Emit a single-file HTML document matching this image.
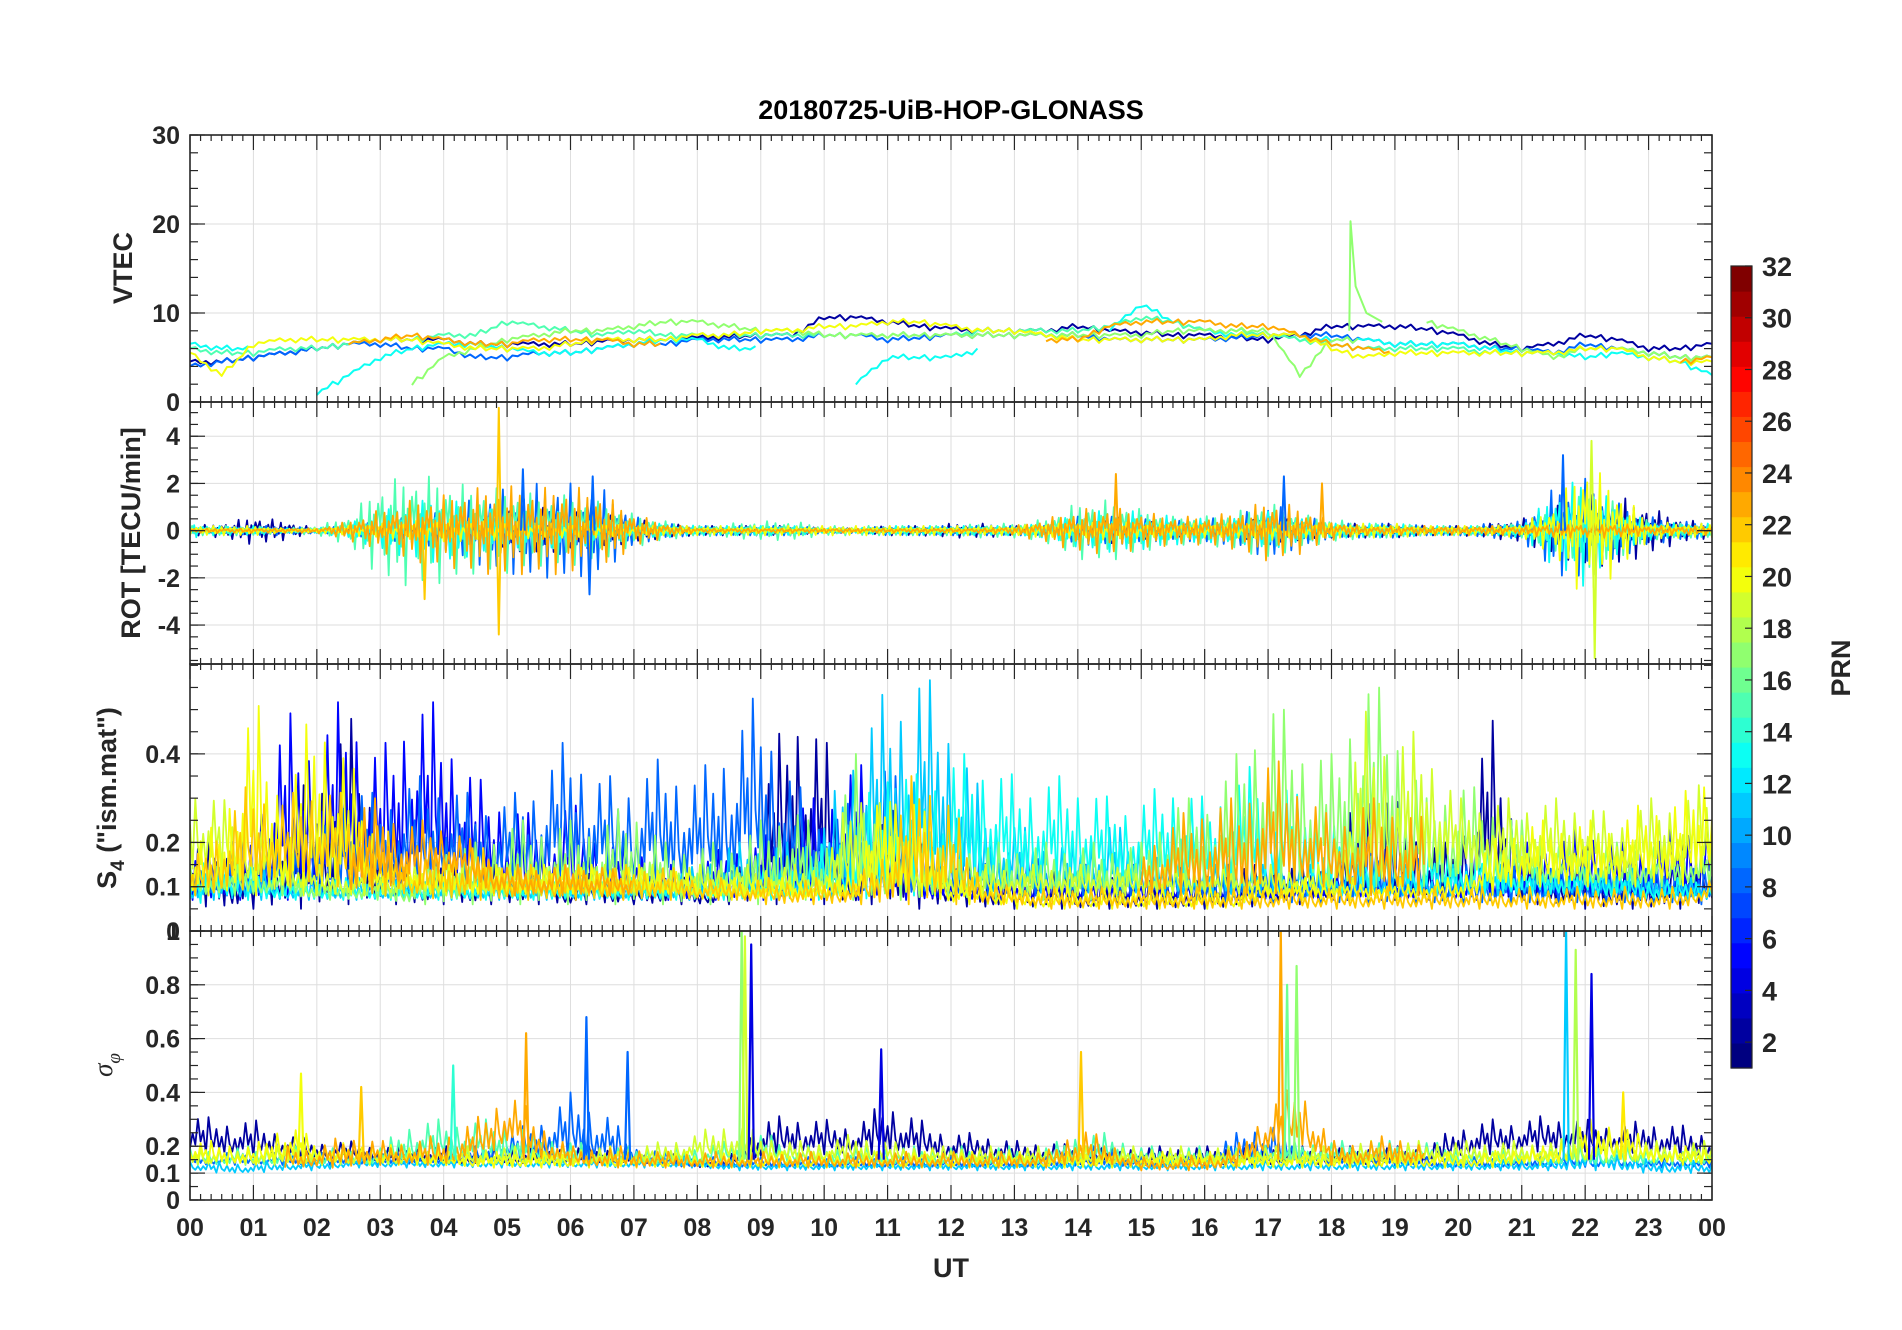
<!DOCTYPE html>
<html><head><meta charset="utf-8"><style>
html,body{margin:0;padding:0;background:#fff;}
svg{display:block;font-family:"Liberation Sans",Arial,sans-serif;}
</style></head><body>
<svg id="chart" width="1902" height="1330" viewBox="0 0 1902 1330" xmlns="http://www.w3.org/2000/svg">
<text x="951" y="119" font-size="27" font-weight="bold" text-anchor="middle" fill="#000">20180725-UiB-HOP-GLONASS</text>
<text x="951" y="1277" font-size="27" font-weight="bold" text-anchor="middle" fill="#262626">UT</text>
<text transform="translate(132,268) rotate(-90)" font-size="27" font-weight="bold" text-anchor="middle" fill="#262626">VTEC</text>
<text transform="translate(140,533) rotate(-90)" font-size="27" font-weight="bold" text-anchor="middle" fill="#262626">ROT [TECU/min]</text>
<text transform="translate(116,798) rotate(-90)" font-size="27" font-weight="bold" text-anchor="middle" fill="#262626">S<tspan font-size="19" dy="8">4</tspan><tspan dy="-8"> ("ism.mat")</tspan></text>
<text transform="translate(112,1065) rotate(-90)" font-size="27" font-style="italic" font-family="Liberation Serif,serif" text-anchor="middle" fill="#262626">σ<tspan font-size="19" dy="8">φ</tspan></text>
<text transform="translate(1850,668) rotate(-90)" font-size="27" font-weight="bold" text-anchor="middle" fill="#262626">PRN</text>
<g id="layer"></g>
</svg>
<script>
// ---------- data (0.5 h steps, 00:00..24:00) ----------
const hourTicks = ["00","01","02","03","04","05","06","07","08","09","10","11","12","13","14","15","16","17","18","19","20","21","22","23","00"];
const vtecPRN = [2,8,13,15,17,20,23];
const vtec2  = [4.5,4.5,5,5.5,6,6.5,7,7,7,6.5,6.5,6.5,6.5,6.8,7,7,7.2,7.3,7.5,7.5,9.5,9.5,9,8.5,8.2,8,8,8,8.5,8,7.8,7.5,7.5,7.2,7,7.5,8.5,8.5,8.5,8.2,7.5,6.5,6,6.5,7.5,7,6,6,6.5];
const vtec8  = [4,4.5,5,5.5,6,6.5,6.5,6,6,5,5,5.5,5.5,6,6.5,6.5,7,7,7,7,7.5,7.5,7,7.2,7.5,7.5,7.5,7.5,7.5,7,7,7,7,7.2,7.5,7.5,7.5,7,6.5,6.5,6.5,6,6,5.5,6.5,6,5.5,5,5];
const vtec13 = [6.5,6,6,null,1,3,5,6,6.5,6.5,6,5.5,5.5,6,6.5,7,7,6,6,null,null,2,5,5,5,6,null,null,null,8,11,9,8,7.5,7.5,7,7,7,6.5,6.5,6.5,6,5.5,5.5,5,5.5,5,4.5,3];
const vtec15 = [6,5.5,5.5,6,6,6.5,7,7,7.5,7.5,9,8.5,8,7.5,8,7.5,7.5,7.5,7.5,7.5,7.5,7.5,7.5,7.5,7.5,8,8,8,8,8.5,9.5,9,8,8,7.5,7,6.5,6,6,6,6,5.5,5.5,5.5,6,6,5.5,5,5];
const vtec17 = [null,null,null,null,null,null,null,2,5,6,7,7.5,8,8,8.5,9,9,8.5,8,8,7.5,7.5,7.5,7.5,7.5,7.5,7.5,7.5,7.5,7.5,7.5,8,8,8,8,3,7,7,null,9,8,7,6,5,6,6,5.5,5,5];
const vtec20 = [5.5,3,6.5,7,7,7,7,7,6.5,6,6,6,6.5,7,7,7,7.5,7.5,8,8,8.5,8.5,9,9,8.5,8,8,7.5,7,7,7,7,7,7.5,7.5,7.5,6,5,5.5,5.5,5.5,5.5,5.5,5.5,6,6,5,4.5,4.5];
const vtec23 = [null,null,null,null,null,6.5,7,7.5,7,6.5,6.5,7,7,7,6.5,6.5,null,null,null,null,null,null,null,null,null,null,null,7,7,8.5,9,9,9,8.5,8.5,7.5,6.5,6,5.5,null,null,null,null,null,null,null,null,4.5,5];
const vtecSpikeHour = [18.3];
const vtecSpikeVal  = [20.3];
const vtecSpikePRN  = [17];

const rotPRN = [2,8,15,13,20,23];
const rot2  = [0.2,0.3,0.6,0.4,0.1,0.1,0.2,0.3,0.5,0.5,0.8,1,0.8,0.7,0.5,0.3,0.2,0.2,0.2,0.2,0.1,0.1,0.2,0.2,0.3,0.3,0.2,0.1,0.4,0.6,0.4,0.3,0.2,0.3,0.6,0.4,0.3,0.3,0.3,0.2,0.2,0.3,0.5,1,1.5,1.5,1,0.5,0.3];
const rot8  = [0.1,0.1,0.2,0.2,0.1,0.2,0.4,0.6,0.8,1.4,1.8,2,2,1.8,0.6,0.3,0.2,0.2,0.2,0.2,0.1,0.1,0.2,0.2,0.2,0.2,0.2,0.2,0.6,0.6,0.5,0.4,0.5,0.6,1.2,0.7,0.3,0.3,0.3,0.2,0.2,0.3,0.4,1.8,2.2,1.2,0.6,0.4,0.3];
const rot15 = [0.2,0.2,0.2,0.1,0.2,0.6,2,2.4,2.2,1.8,1.8,1.5,1.5,1.2,0.7,0.4,0.2,0.3,0.4,0.4,0.2,0.2,0.2,0.2,0.2,0.3,0.3,0.5,1.2,1.3,0.9,0.6,0.6,0.8,1.2,0.7,0.5,0.3,0.3,0.2,0.2,0.2,0.3,0.8,1.6,1.2,0.4,0.3,0.3];
const rot13 = [0.3,0.2,0.2,0.1,0.1,0.3,0.8,1.2,1.4,1,0.8,0.8,0.8,0.6,0.3,0.3,0.2,0.2,0.2,0.2,0.1,0.1,0.2,0.2,0.2,0.2,0.2,0.3,0.7,0.9,0.8,0.6,0.5,0.5,0.8,0.5,0.3,0.3,0.3,0.2,0.2,0.2,0.3,1.5,2.4,1,0.4,0.3,0.3];
const rot20 = [0.2,0.2,0.2,0.1,0.1,0.2,0.3,0.4,0.5,0.4,0.4,0.3,0.3,0.3,0.2,0.2,0.2,0.2,0.2,0.2,0.2,0.2,0.2,0.2,0.2,0.2,0.2,0.3,0.3,0.4,0.3,0.3,0.3,0.3,0.4,0.3,0.3,0.3,0.3,0.2,0.2,0.2,0.3,1,3,1.8,0.4,0.3,0.3];
const rot23 = [0.1,0.1,0.1,0.1,0.1,0.4,0.9,1.3,1.5,1.8,1.9,1.8,1.9,1.6,0.7,0.3,0.1,0.1,0.1,0.1,0.1,0.1,0.1,0.1,0.1,0.1,0.2,0.5,0.9,1,0.8,0.6,0.6,0.8,1.3,1,0.4,0.2,0.2,0.2,0.2,0.2,0.2,0.3,0.3,0.3,0.2,0.2,0.2];
const rotSpikeHour = [4.87,4.87,5.25,6.3,6.35,14.6,17.25,17.85,21.65,22.1,22.15,3.7];
const rotSpikeVal  = [5.2,-4.4,2.6,-2.7,2.3,2.4,2.3,2.0,3.2,3.8,-5.4,-2.9];
const rotSpikePRN  = [22,22,8,8,8,23,8,23,8,19,19,22];

const s4PRN = [2,5,8,11,13,17,19,20,22,23];
const s4base2  = [0.06,0.05,0.05,0.05,0.05,0.06,0.06,0.06,0.06,0.06,0.06,0.06,0.06,0.06,0.06,0.06,0.06,0.06,0.06,0.06,0.06,0.06,0.06,0.05,0.06,0.05,0.05,0.05,0.05,0.05,0.05,0.05,0.05,0.05,0.06,0.06,0.07,0.07,0.07,0.07,0.07,0.07,0.06,0.06,0.05,0.05,0.05,0.05,0.06];
const s4peak2  = [0.2,0.2,0.15,0.3,0.35,0.5,0.25,0.15,0.2,0.15,0.15,0.2,0.1,0.15,0.1,0.15,0.1,0.12,0.3,0.55,0.45,0.15,0.35,0.2,0.15,0.15,0.15,0.15,0.12,0.12,0.12,0.12,0.12,0.15,0.15,0.15,0.15,0.35,0.3,0.2,0.2,0.5,0.2,0.15,0.2,0.15,0.15,0.2,0.2];
const s4base5  = [0.07,0.07,0.07,0.07,0.07,0.08,0.09,0.09,0.09,0.09,0.09,0.09,0.09,0.09,0.09,0.07,0.07,0.07,0.07,0.07,0.07,0.07,0.07,0.07,0.07,0.07,0.07,0.07,0.07,0.07,0.07,0.07,0.07,0.07,0.07,0.07,0.07,0.07,0.07,0.07,0.07,0.07,0.07,0.07,0.07,0.07,0.07,0.07,0.09];
const s4peak5  = [0.15,0.2,0.25,0.5,0.45,0.55,0.4,0.55,0.5,0.35,0.3,0.25,0.3,0.2,0.2,0.15,0.15,0.2,0.2,0.3,0.3,0.4,0.25,0.15,0.12,0.12,0.12,0.12,0.12,0.12,0.12,0.12,0.12,0.12,0.12,0.12,0.12,0.15,0.12,0.12,0.12,0.15,0.2,0.2,0.25,0.2,0.2,0.25,0.25];
const s4base8  = [0.08,0.08,0.08,0.08,0.08,0.08,0.1,0.1,0.1,0.1,0.1,0.1,0.1,0.1,0.1,0.1,0.1,0.1,0.1,0.08,0.08,0.08,0.08,0.08,0.08,0.08,0.08,0.08,0.08,0.08,0.08,0.08,0.06,0.06,0.06,0.06,0.06,0.06,0.06,0.06,0.06,0.06,0.06,0.06,0.06,0.06,0.06,0.06,0.06];
const s4peak8  = [0.15,0.15,0.15,0.2,0.2,0.35,0.3,0.35,0.35,0.3,0.3,0.35,0.45,0.35,0.35,0.4,0.35,0.45,0.55,0.35,0.25,0.3,0.4,0.2,0.2,0.2,0.2,0.15,0.15,0.15,0.15,0.15,0.15,0.15,0.15,0.15,0.15,0.2,0.2,0.15,0.15,0.15,0.15,0.15,0.15,0.15,0.15,0.15,0.15];
const s4base11 = [0.07,0.07,0.07,0.07,0.07,0.07,0.07,0.07,0.07,0.07,0.07,0.07,0.07,0.07,0.07,0.07,0.07,0.07,0.07,0.07,0.07,0.08,0.08,0.08,0.08,0.08,0.08,0.08,0.08,0.08,0.08,0.08,0.08,0.08,0.08,0.08,0.08,0.08,0.08,0.08,0.08,0.08,0.08,0.08,0.08,0.08,0.07,0.07,0.07];
const s4peak11 = [0.12,0.15,0.15,0.12,0.12,0.12,0.12,0.12,0.12,0.12,0.12,0.12,0.12,0.12,0.12,0.12,0.15,0.2,0.2,0.2,0.25,0.45,0.55,0.6,0.5,0.3,0.25,0.2,0.2,0.25,0.2,0.15,0.15,0.15,0.15,0.15,0.15,0.15,0.15,0.15,0.15,0.15,0.15,0.15,0.15,0.15,0.15,0.12,0.12];
const s4base13 = [0.06,0.07,0.07,0.07,0.07,0.07,0.07,0.07,0.07,0.07,0.07,0.07,0.07,0.07,0.07,0.07,0.07,0.07,0.07,0.07,0.07,0.07,0.08,0.08,0.08,0.1,0.1,0.1,0.1,0.1,0.1,0.1,0.1,0.1,0.1,0.1,0.08,0.08,0.08,0.08,0.08,0.08,0.08,0.08,0.08,0.07,0.07,0.07,0.07];
const s4peak13 = [0.12,0.2,0.15,0.12,0.12,0.12,0.12,0.12,0.12,0.12,0.12,0.12,0.12,0.12,0.12,0.12,0.12,0.12,0.15,0.15,0.2,0.25,0.4,0.35,0.4,0.4,0.35,0.35,0.35,0.3,0.3,0.35,0.3,0.35,0.4,0.3,0.25,0.3,0.2,0.2,0.2,0.2,0.15,0.15,0.15,0.15,0.12,0.12,0.12];
const s4base17 = [0.08,0.08,0.08,0.08,0.07,0.07,0.07,0.06,0.06,0.06,0.06,0.06,0.06,0.06,0.06,0.06,0.06,0.06,0.06,0.07,0.07,0.07,0.07,0.07,0.07,0.07,0.07,0.07,0.07,0.07,0.08,0.08,0.08,0.08,0.1,0.1,0.1,0.1,0.1,0.1,0.1,0.1,0.1,0.1,0.1,0.1,0.1,0.1,0.1];
const s4peak17 = [0.15,0.15,0.15,0.15,0.12,0.12,0.12,0.12,0.2,0.2,0.25,0.25,0.25,0.25,0.3,0.2,0.2,0.2,0.25,0.3,0.2,0.4,0.2,0.2,0.2,0.2,0.2,0.2,0.2,0.2,0.2,0.3,0.3,0.4,0.55,0.45,0.4,0.6,0.5,0.3,0.35,0.3,0.25,0.2,0.2,0.2,0.2,0.2,0.2];
const s4base19 = [0.13,0.13,0.1,0.1,0.08,0.08,0.08,0.08,0.08,0.08,0.08,0.08,0.08,0.08,0.08,0.08,0.08,0.08,0.08,0.08,0.08,0.08,0.08,0.08,0.08,0.08,0.08,0.08,0.08,0.08,0.08,0.08,0.08,0.08,0.08,0.08,0.08,0.1,0.1,0.13,0.13,0.13,0.13,0.13,0.13,0.13,0.13,0.13,0.13];
const s4peak19 = [0.35,0.3,0.25,0.2,0.15,0.15,0.15,0.15,0.15,0.15,0.15,0.15,0.15,0.15,0.15,0.15,0.15,0.15,0.15,0.15,0.15,0.35,0.3,0.2,0.15,0.15,0.15,0.15,0.15,0.15,0.15,0.15,0.15,0.15,0.15,0.15,0.15,0.5,0.45,0.45,0.3,0.3,0.3,0.3,0.3,0.25,0.3,0.3,0.35];
const s4base20 = [0.08,0.08,0.08,0.08,0.08,0.08,0.1,0.1,0.08,0.08,0.08,0.08,0.08,0.08,0.08,0.08,0.07,0.07,0.07,0.07,0.07,0.07,0.08,0.08,0.06,0.06,0.05,0.05,0.05,0.05,0.05,0.05,0.05,0.05,0.07,0.07,0.07,0.07,0.07,0.07,0.07,0.08,0.1,0.1,0.1,0.1,0.1,0.1,0.13];
const s4peak20 = [0.2,0.25,0.55,0.3,0.55,0.4,0.2,0.15,0.15,0.15,0.15,0.15,0.15,0.15,0.15,0.15,0.12,0.12,0.12,0.12,0.12,0.15,0.35,0.3,0.12,0.12,0.1,0.1,0.1,0.1,0.1,0.1,0.1,0.1,0.12,0.12,0.12,0.12,0.12,0.12,0.12,0.2,0.25,0.25,0.25,0.25,0.3,0.3,0.4];
const s4base22 = [0.08,0.08,0.1,0.1,0.1,0.1,0.08,0.08,0.07,0.07,0.07,0.07,0.07,0.07,0.07,0.07,0.07,0.07,0.06,0.06,0.06,0.06,0.06,0.06,0.06,0.06,0.06,0.05,0.05,0.05,0.05,0.05,0.05,0.05,0.05,0.05,0.05,0.05,0.05,0.05,0.05,0.05,0.05,0.05,0.05,0.05,0.05,0.05,0.07];
const s4peak22 = [0.15,0.25,0.35,0.3,0.35,0.3,0.25,0.15,0.2,0.2,0.15,0.15,0.15,0.15,0.15,0.15,0.12,0.12,0.12,0.12,0.12,0.12,0.2,0.4,0.3,0.12,0.1,0.1,0.1,0.1,0.1,0.1,0.1,0.1,0.1,0.1,0.1,0.1,0.1,0.1,0.1,0.1,0.1,0.1,0.1,0.1,0.1,0.1,0.12];
const s4base23 = [null,null,null,null,null,0.07,0.09,0.1,0.13,0.1,0.08,0.08,0.08,0.08,0.08,null,null,null,null,null,null,null,null,null,null,null,null,null,null,null,0.08,0.08,0.08,0.07,0.08,0.1,0.1,0.08,0.08,0.08,null,null,null,null,null,null,null,null,null];
const s4peak23 = [null,null,null,null,null,0.3,0.3,0.25,0.25,0.2,0.15,0.15,0.15,0.15,0.12,null,null,null,null,null,null,null,null,null,null,null,null,null,null,null,0.2,0.25,0.3,0.3,0.4,0.35,0.25,0.3,0.3,0.25,null,null,null,null,null,null,null,null,null];

const sigPRN = [2,8,11,15,19,20,23];
const sigBase2  = [0.18,0.17,0.16,0.16,0.15,0.15,0.14,0.14,0.13,0.13,0.13,0.13,0.13,0.13,0.13,0.13,0.12,0.12,0.15,0.17,0.17,0.17,0.17,0.16,0.15,0.15,0.14,0.14,0.13,0.13,0.13,0.13,0.13,0.13,0.13,0.13,0.13,0.13,0.13,0.13,0.16,0.17,0.18,0.18,0.18,0.18,0.17,0.16,0.15];
const sigPeak2  = [0.32,0.3,0.3,0.25,0.22,0.22,0.2,0.2,0.2,0.2,0.2,0.2,0.2,0.2,0.18,0.18,0.16,0.16,0.3,0.32,0.3,0.28,0.38,0.3,0.25,0.25,0.22,0.22,0.2,0.2,0.2,0.2,0.2,0.2,0.2,0.2,0.2,0.2,0.2,0.2,0.28,0.3,0.3,0.32,0.3,0.28,0.3,0.28,0.25];
const sigBase8  = [0.13,0.13,0.13,0.13,0.13,0.13,0.13,0.13,0.13,0.14,0.14,0.15,0.15,0.14,0.14,0.13,0.12,0.12,0.12,0.12,0.12,0.12,0.12,0.12,0.12,0.12,0.12,0.12,0.12,0.12,0.12,0.12,0.13,0.14,0.14,0.14,0.13,0.13,0.13,0.12,0.12,0.12,0.12,0.12,0.12,0.12,0.12,0.12,0.12];
const sigPeak8  = [0.18,0.18,0.18,0.18,0.18,0.18,0.18,0.18,0.18,0.2,0.25,0.3,0.4,0.35,0.2,0.18,0.16,0.16,0.16,0.16,0.16,0.16,0.16,0.16,0.16,0.16,0.16,0.16,0.2,0.2,0.16,0.16,0.18,0.25,0.3,0.2,0.18,0.18,0.18,0.16,0.16,0.16,0.16,0.18,0.18,0.16,0.16,0.16,0.16];
const sigBase11 = [0.11,0.1,0.1,0.11,0.11,0.12,0.12,0.12,0.12,0.12,0.12,0.12,0.12,0.12,0.12,0.12,0.12,0.11,0.11,0.11,0.11,0.11,0.11,0.11,0.11,0.11,0.11,0.11,0.11,0.11,0.11,0.11,0.11,0.11,0.11,0.11,0.11,0.11,0.11,0.11,0.11,0.11,0.11,0.11,0.11,0.11,0.1,0.1,0.1];
const sigPeak11 = [0.15,0.14,0.14,0.15,0.15,0.16,0.16,0.16,0.16,0.16,0.16,0.16,0.16,0.16,0.16,0.16,0.16,0.15,0.15,0.15,0.15,0.15,0.15,0.15,0.15,0.15,0.15,0.15,0.15,0.15,0.15,0.15,0.15,0.15,0.15,0.15,0.15,0.15,0.15,0.15,0.15,0.15,0.15,0.15,0.2,0.18,0.15,0.15,0.14];
const sigBase15 = [0.13,0.13,0.13,0.13,0.13,0.13,0.13,0.14,0.15,0.15,0.14,0.13,0.13,0.13,0.13,0.13,0.13,0.14,0.14,0.14,0.13,0.13,0.13,0.13,0.13,0.13,0.13,0.13,0.14,0.14,0.13,0.13,0.13,0.13,0.14,0.14,0.14,0.14,0.14,0.14,0.13,0.13,0.13,0.13,0.13,0.13,0.13,0.13,0.13];
const sigPeak15 = [0.2,0.2,0.2,0.2,0.2,0.2,0.2,0.3,0.3,0.3,0.3,0.25,0.22,0.2,0.2,0.2,0.2,0.22,0.25,0.22,0.2,0.2,0.2,0.2,0.2,0.2,0.2,0.2,0.25,0.25,0.2,0.2,0.2,0.2,0.22,0.22,0.22,0.22,0.22,0.22,0.2,0.2,0.2,0.2,0.2,0.2,0.2,0.2,0.2];
const sigBase19 = [0.13,0.13,0.13,0.13,0.13,0.13,0.13,0.13,0.13,0.13,0.13,0.13,0.13,0.13,0.13,0.14,0.15,0.15,0.14,0.14,0.14,0.14,0.14,0.14,0.14,0.13,0.13,0.13,0.13,0.13,0.13,0.13,0.13,0.13,0.13,0.13,0.13,0.13,0.13,0.14,0.14,0.14,0.14,0.14,0.14,0.14,0.14,0.14,0.14];
const sigPeak19 = [0.2,0.2,0.2,0.2,0.2,0.2,0.2,0.2,0.2,0.2,0.2,0.2,0.2,0.2,0.2,0.22,0.25,0.3,0.25,0.22,0.22,0.25,0.22,0.2,0.2,0.2,0.2,0.2,0.2,0.2,0.2,0.2,0.2,0.2,0.2,0.2,0.2,0.22,0.22,0.22,0.22,0.22,0.22,0.22,0.25,0.25,0.22,0.22,0.22];
const sigBase20 = [0.14,0.13,0.13,0.14,0.14,0.14,0.13,0.13,0.13,0.12,0.12,0.12,0.12,0.12,0.12,0.12,0.12,0.12,0.12,0.12,0.12,0.12,0.12,0.12,0.12,0.12,0.12,0.12,0.12,0.12,0.12,0.12,0.12,0.12,0.12,0.12,0.12,0.12,0.12,0.12,0.12,0.12,0.13,0.13,0.15,0.15,0.14,0.13,0.13];
const sigPeak20 = [0.22,0.22,0.2,0.3,0.22,0.22,0.22,0.2,0.18,0.18,0.18,0.18,0.18,0.18,0.18,0.18,0.18,0.18,0.18,0.18,0.18,0.18,0.18,0.18,0.18,0.18,0.18,0.18,0.18,0.18,0.18,0.18,0.18,0.18,0.18,0.18,0.18,0.18,0.18,0.18,0.18,0.18,0.2,0.2,0.3,0.3,0.22,0.2,0.2];
const sigBase23 = [null,null,null,0.12,0.12,0.12,0.13,0.13,0.13,0.14,0.2,0.15,0.13,0.12,0.12,0.12,0.12,0.12,0.12,0.12,0.12,0.12,0.12,0.12,0.12,0.12,0.12,0.12,0.13,0.13,0.11,0.11,0.11,0.12,0.18,0.2,0.13,0.13,0.13,0.13,null,null,null,null,null,null,null,null,null];
const sigPeak23 = [null,null,null,0.2,0.2,0.25,0.22,0.22,0.25,0.3,0.42,0.3,0.2,0.2,0.2,0.18,0.18,0.18,0.18,0.18,0.18,0.18,0.18,0.18,0.18,0.18,0.18,0.18,0.28,0.22,0.16,0.16,0.17,0.2,0.35,0.45,0.22,0.22,0.25,0.2,null,null,null,null,null,null,null,null,null];
const sigSpikeHour = [8.7,8.75,8.85,6.25,5.3,1.75,2.7,14.05,17.2,17.3,17.45,21.7,21.85,22.1,22.6,10.9,6.9,4.15];
const sigSpikeVal  = [1.0,0.98,0.95,0.68,0.62,0.47,0.42,0.55,1.0,0.8,0.87,1.0,0.93,0.84,0.4,0.56,0.55,0.5];
const sigSpikePRN  = [17,19,4,8,23,20,22,22,23,16,17,11,18,4,21,4,8,14];

// ---------- geometry ----------
const X0=190, X1=1712;
const P = {
  vtec:{top:135,bot:402,min:0,max:30},
  rot:{top:402,bot:664,min:-5.65,max:5.45},
  s4:{top:664,bot:931,min:0,max:0.603},
  sig:{top:931,bot:1200,min:0,max:1.0}
};
function X(h){return X0+h*(X1-X0)/24;}
function Y(p,v){return p.bot-(v-p.min)/(p.max-p.min)*(p.bot-p.top);}
function jet(prn){const t=(prn-1)/31;const c=x=>Math.round(255*Math.max(0,Math.min(1,x)));
  return `rgb(${c(1.5-Math.abs(4*t-3))},${c(1.5-Math.abs(4*t-2))},${c(1.5-Math.abs(4*t-1))})`;}
const NS="http://www.w3.org/2000/svg";
const layer=document.getElementById('layer');
function el(tag,attrs,parent){const e=document.createElementNS(NS,tag);for(const k in attrs)e.setAttribute(k,attrs[k]);(parent||layer).appendChild(e);return e;}
function interp(arr,h){const i=h*2;const a=Math.floor(i),b=Math.min(a+1,arr.length-1);const fa=arr[a],fb=arr[b];
  if(fa==null||fb==null)return null;return fa+(fb-fa)*(i-a);}
const pat = [0.1,0.7,-0.5,0.3,-0.9,0.5,-0.2,1,-0.6,0.2,-0.3,0.8,-1,0.4,-0.1,0.6];
const pat01=[0.1,0.5,0.2,0.9,0.3,0.6,0,1,0.4,0.2,0.7,0.15,0.5,0.05,0.8,0.3,0.1,0.45];

function clipFor(name,p){
  const cp=el('clipPath',{id:'clip-'+name});
  el('rect',{x:X0,y:p.top,width:X1-X0,height:p.bot-p.top},cp);
}
function axes(name,p,yt){
  const g=el('g',{});
  
  
  for(let h=1;h<24;h++){ el('line',{x1:X(h),x2:X(h),y1:p.top,y2:p.bot,stroke:'#dedede','stroke-width':1},g);}
  yt.forEach(v=>{const y=Y(p,v); if(v>p.min&&v<p.max) el('line',{x1:X0,x2:X1,y1:y,y2:y,stroke:'#dedede','stroke-width':1},g);});
}
function frame(name,p,yt,ylab,minorStep){
  const g=el('g',{});
  
  
  el('rect',{x:X0,y:p.top,width:X1-X0,height:p.bot-p.top,fill:'none',stroke:'#262626','stroke-width':1.6},g);
  for(let k=0;k<=144;k++){const x=X(k/6);const L=(k%6==0)?15:6;
    el('line',{x1:x,x2:x,y1:p.bot,y2:p.bot-L,stroke:'#262626','stroke-width':1.2},g);
    el('line',{x1:x,x2:x,y1:p.top,y2:p.top+L,stroke:'#262626','stroke-width':1.2},g);}
  for(let v=Math.ceil(p.min/minorStep)*minorStep;v<=p.max+1e-9;v+=minorStep){const y=Y(p,v);
    el('line',{x1:X0,x2:X0+8,y1:y,y2:y,stroke:'#262626','stroke-width':1.2},g);
    el('line',{x1:X1,x2:X1-8,y1:y,y2:y,stroke:'#262626','stroke-width':1.2},g);}
  yt.forEach((v,i)=>{const y=Y(p,v);
    el('line',{x1:X0,x2:X0+15,y1:y,y2:y,stroke:'#262626','stroke-width':1.2},g);
    el('line',{x1:X1,x2:X1-15,y1:y,y2:y,stroke:'#262626','stroke-width':1.2},g);
    const t=el('text',{x:180,y:y+9,'font-size':25,'font-weight':'bold','text-anchor':'end',fill:'#262626'},g);
    
    
    t.textContent=ylab[i];});
}
function polyline(name,pts,color,clip,w){
  if(pts.length<2)return;
  const e=el('polyline',{points:pts.map(q=>q[0].toFixed(1)+','+q[1].toFixed(1)).join(' '),fill:'none',stroke:color,'stroke-width':w||2,'stroke-linejoin':'round','clip-path':'url(#clip-'+clip+')'});
  
  
}
function segs(arr){const out=[];let cur=[];arr.forEach(q=>{if(q==null){if(cur.length)out.push(cur);cur=[];}else cur.push(q);});if(cur.length)out.push(cur);return out;}

const vTicks=[0,10,20,30], rTicks=[-4,-2,0,2,4], sTicks=[0.1,0.2,0.4], gTicks=[0,0.1,0.2,0.4,0.6,0.8,1];
clipFor('vtec',P.vtec);clipFor('rot',P.rot);clipFor('s4',P.s4);clipFor('sig',P.sig);
axes('vtec',P.vtec,vTicks);axes('rot',P.rot,rTicks);axes('s4',P.s4,sTicks);axes('sigma',P.sig,gTicks);

// VTEC
const vtecSeries=[vtec2,vtec8,vtec13,vtec15,vtec17,vtec20,vtec23];
vtecSeries.forEach((arr,si)=>{
  const pts=[];for(let k=0;k<=24*12;k++){const h=k/12;const v=interp(arr,h);
    pts.push(v==null?null:[X(h),Y(P.vtec,v+0.35*pat[k%pat.length])]);}
  segs(pts).forEach(s=>polyline('vtec-line-prn'+vtecPRN[si],s,jet(vtecPRN[si]),'vtec',2));
});
vtecSpikeHour.forEach((h,i)=>polyline('vtec-spike',[[X(h-0.02),Y(P.vtec,8)],[X(h),Y(P.vtec,vtecSpikeVal[i])],[X(h+0.08),Y(P.vtec,13)],[X(h+0.25),Y(P.vtec,10)],[X(h+0.5),Y(P.vtec,9)]],jet(vtecSpikePRN[i]),'vtec',2));
// ROT
const rotSeries=[rot2,rot8,rot15,rot13,rot20,rot23];
rotSeries.forEach((arr,si)=>{
  const pts=[];for(let k=0;k<=24*30;k++){const h=k/30;const a=interp(arr,h);
    pts.push(a==null?null:[X(h),Y(P.rot,a*pat[(k+si*3)%pat.length])]);}
  segs(pts).forEach(s=>polyline('rot-line-prn'+rotPRN[si],s,jet(rotPRN[si]),'rot',1.8));
});
rotSpikeHour.forEach((h,i)=>polyline('rot-spike',[[X(h-0.03),Y(P.rot,0)],[X(h),Y(P.rot,rotSpikeVal[i])],[X(h+0.03),Y(P.rot,0)]],jet(rotSpikePRN[i]),'rot',2));
// S4
const s4Base=[s4base2,s4base5,s4base8,s4base11,s4base13,s4base17,s4base19,s4base20,s4base22,s4base23];
const s4Peak=[s4peak2,s4peak5,s4peak8,s4peak11,s4peak13,s4peak17,s4peak19,s4peak20,s4peak22,s4peak23];
s4Base.forEach((b,si)=>{
  const pts=[];for(let k=0;k<=24*24;k++){const h=k/24;const lo=interp(b,h),hi=interp(s4Peak[si],h);
    pts.push(lo==null||hi==null?null:[X(h),Y(P.s4,lo+(hi-lo)*pat01[(k+si*5)%pat01.length])]);}
  segs(pts).forEach(s=>polyline('s4-line-prn'+s4PRN[si],s,jet(s4PRN[si]),'s4',1.8));
});
// sigma
const sigBase=[sigBase2,sigBase8,sigBase11,sigBase15,sigBase19,sigBase20,sigBase23];
const sigPeak=[sigPeak2,sigPeak8,sigPeak11,sigPeak15,sigPeak19,sigPeak20,sigPeak23];
sigBase.forEach((b,si)=>{
  const pts=[];for(let k=0;k<=24*24;k++){const h=k/24;const lo=interp(b,h),hi=interp(sigPeak[si],h);
    pts.push(lo==null||hi==null?null:[X(h),Y(P.sig,lo+(hi-lo)*pat01[(k+si*7)%pat01.length])]);}
  segs(pts).forEach(s=>polyline('sigma-line-prn'+sigPRN[si],s,jet(sigPRN[si]),'sig',1.8));
});
sigSpikeHour.forEach((h,i)=>polyline('sigma-spike',[[X(h-0.04),Y(P.sig,0.15)],[X(h),Y(P.sig,sigSpikeVal[i])],[X(h+0.04),Y(P.sig,0.15)]],jet(sigSpikePRN[i]),'sig',2.2));

frame('vtec',P.vtec,vTicks,["0","10","20","30"],2);
frame('rot',P.rot,rTicks,["-4","-2","0","2","4"],0.5);
frame('s4',P.s4,sTicks.concat([0]),["0.1","0.2","0.4","0"],0.05);
frame('sigma',P.sig,gTicks,["0","0.1","0.2","0.4","0.6","0.8","1"],0.05);

hourTicks.forEach((lab,i)=>{const t=el('text',{x:X(i),y:1236,'font-size':25,'font-weight':'bold','text-anchor':'middle',fill:'#262626'});
  
  
  t.textContent=lab;});

// colorbar
const cbTicks=[2,4,6,8,10,12,14,16,18,20,22,24,26,28,30,32];
const CB={x:1731,w:21,top:266,bot:1068,min:1,max:32};
const cb=el('g',{});


const cy=v=>CB.bot-(v-CB.min)/(CB.max-CB.min)*(CB.bot-CB.top);
for(let i=0;i<32;i++){const v0=CB.min+i*(CB.max-CB.min)/32,v1=v0+(CB.max-CB.min)/32;
  el('rect',{x:CB.x,y:cy(v1),width:CB.w,height:cy(v0)-cy(v1)+0.6,fill:jet(1+i*31/31)},cb);}
el('rect',{x:CB.x,y:CB.top,width:CB.w,height:CB.bot-CB.top,fill:'none',stroke:'#262626','stroke-width':1.2},cb);
cbTicks.forEach(v=>{const y=cy(v);
  el('line',{x1:CB.x+CB.w-7,x2:CB.x+CB.w,y1:y,y2:y,stroke:'#262626','stroke-width':1.2},cb);
  const t=el('text',{x:1762,y:y+10,'font-size':27,'font-weight':'bold',fill:'#262626'},cb);
  
  
  t.textContent=v;});
</script>
</body></html>
